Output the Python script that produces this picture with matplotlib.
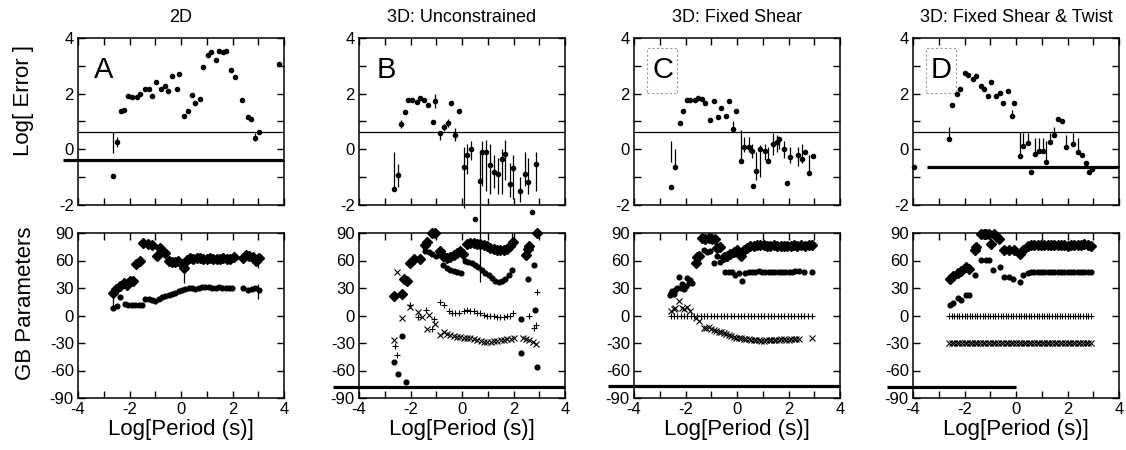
import matplotlib.pyplot as plt
from matplotlib.patches import Rectangle

plt.rcParams['font.family'] = ['Liberation Sans', 'DejaVu Sans']
plt.rcParams['axes.unicode_minus'] = False

titles = ['2D', '3D: Unconstrained', '3D: Fixed Shear', '3D: Fixed Shear & Twist']
letters = ['A', 'B', 'C', 'D']

# ---- top row: Log[Error] ----
a_top_x = [-2.63, -2.47, -2.33, -2.21, -2.04, -1.91, -1.69, -1.61, -1.39, -1.26, -1.11, -0.96, -0.77,
           -0.64, -0.49, -0.36, -0.16, -0.06, 0.12, 0.27, 0.42, 0.55, 0.72, 0.85, 1.05, 1.18, 1.36,
           1.49, 1.65, 1.76, 1.94, 2.08, 2.37, 2.59, 2.72, 2.86, 3.02, 3.79]
a_top_y = [-0.97, 0.28, 1.36, 1.42, 1.90, 1.87, 1.87, 1.99, 2.18, 2.18, 1.90, 2.41, 2.18,
           2.26, 2.08, 2.64, 2.17, 2.71, 1.21, 1.36, 1.96, 1.66, 1.81, 2.95, 3.38, 3.49, 3.22,
           3.52, 3.50, 3.52, 2.84, 2.60, 1.78, 1.16, 1.09, 0.40, 0.62, 3.08]
a_bar_x = [-2.63, -2.47, 2.86]
a_bar_lo = [-0.14, 0.10, 0.30]
a_bar_hi = [0.64, 0.45, 0.60]

b_top_x = [-2.66, -2.49, -2.38, -2.21, -2.08, -1.95, -1.75, -1.62, -1.47, -1.32, -1.14, -1.04, -0.84,
           -0.71, -0.55, -0.42, -0.26, -0.13, 0.06, 0.19, 0.36, 0.49, 0.68, 0.77, 0.94, 1.09, 1.26,
           1.38, 1.55, 1.68, 1.85, 1.98, 2.26, 2.46, 2.58, 2.72, 2.89]
b_top_y = [-1.41, -0.93, 0.92, 1.34, 1.77, 1.77, 1.71, 1.85, 1.79, 1.61, 0.98, 1.73, 0.58,
           0.82, 0.94, 1.67, 0.50, 1.37, -0.62, -0.20, 0.01, -2.52, -1.13, -0.11, -0.11, -0.55, -0.83,
           -0.87, -0.35, -0.15, -1.23, -0.67, -1.50, -0.89, -1.19, -2.25, -0.53]
b_bar_x = [-2.66, -2.49, -2.38, -1.04, -0.84, -0.71, -0.55, -0.26, 0.06, 0.19, 0.36, 0.68, 0.77,
           0.94, 1.09, 1.26, 1.38, 1.55, 1.68, 1.85, 1.98, 2.26, 2.46, 2.58, 2.89]
b_bar_lo = [-1.37, -1.37, 0.75, 1.5, 0.35, 0.65, 0.8, 0.3, -2.1, -0.9, -0.4, -3.02, -1.3,
            -1.5, -1.6, -1.4, -1.6, -1.6, -1.1, -1.7, -1.8, -1.9, -1.3, -1.6, -1.5]
b_bar_hi = [-0.11, -0.53, 1.05, 2.0, 0.6, 0.9, 1.1, 0.75, 0.1, 0.2, 0.3, -0.1, 0.3,
            0.35, 0.2, -0.2, -0.3, 0.0, 0.35, -0.5, -0.2, -1.0, -0.1, -0.3, -0.1]

c_top_x = [-2.55, -2.41, -2.23, -2.10, -1.96, -1.83, -1.65, -1.52, -1.35, -1.23, -1.03, -0.90, -0.75,
           -0.62, -0.43, -0.32, -0.15, -0.03, 0.15, 0.28, 0.45, 0.58, 0.61, 0.74, 0.90, 1.10, 1.20,
           1.39, 1.55, 1.65, 1.81, 1.94, 2.06, 2.36, 2.52, 2.66, 2.80, 2.95]
c_top_y = [-1.37, -0.65, 0.94, 1.37, 1.79, 1.79, 1.79, 1.84, 1.81, 1.66, 1.06, 1.72, 1.15,
           1.48, 1.19, 1.72, 0.73, 1.39, -0.41, 0.07, 0.07, -0.05, -1.30, -0.77, 0.00, -0.05, -0.41,
           0.19, 0.27, 0.37, 0.00, -1.22, -0.29, -0.20, -0.35, -0.10, -0.85, -0.25]
c_bar_x = [-2.55, -2.41, -0.15, 0.15, 0.28, 0.45, 0.58, 0.74, 0.90, 1.10, 1.20, 1.39, 1.55,
           1.65, 1.81, 2.06, 2.36, 2.52, 2.80]
c_bar_lo = [-0.47, -0.71, 0.67, -0.41, -0.10, -0.10, -0.30, -1.10, -1.00, -0.40, -0.50, -0.20, -0.10,
            0.00, -0.30, -0.50, -0.60, -0.50, -0.90]
c_bar_hi = [0.31, 0.01, 1.03, 0.70, 0.45, 0.45, 0.20, -0.10, 0.15, 0.20, 0.10, 0.60, 0.50,
            0.40, 0.30, 0.10, 0.10, 0.20, -0.20]

d_top_x = [-3.97, -2.61, -2.48, -2.30, -2.17, -2.00, -1.87, -1.68, -1.57, -1.35, -1.23, -1.10, -0.97,
           -0.77, -0.62, -0.49, -0.32, -0.17, -0.06, 0.15, 0.28, 0.45, 0.58, 0.74, 0.88, 1.03, 1.16,
           1.33, 1.46, 1.64, 1.77, 1.96, 2.20, 2.40, 2.55, 2.70, 2.85, 2.95]
d_top_y = [-0.65, 0.36, 1.58, 1.98, 2.18, 2.74, 2.68, 2.54, 2.64, 2.26, 2.18, 1.90, 2.42,
           1.90, 2.02, 1.66, 2.08, 1.18, 1.66, -0.23, 0.13, 0.24, -0.80, -0.18, -0.06, -0.06, -0.47,
           0.28, 0.52, 1.08, 1.00, 0.10, 0.20, -0.10, -0.20, -0.50, -0.80, -0.70]
d_bar_x = [-2.61, -0.17, 0.15, 0.28, 0.45, 0.74, 0.88, 1.03, 1.16, 1.33, 1.46, 1.96, 2.20, 2.40]
d_bar_lo = [0.36, 1.18, -0.23, 0.13, 0.24, -0.18, -0.06, -0.06, -0.47, 0.28, 0.52, 0.10, 0.20, -0.10]
d_bar_hi = [0.80, 1.40, 0.64, 0.60, 0.60, 0.40, 0.40, 0.40, 0.30, 0.60, 0.80, 0.50, 0.60, 0.40]

# ---- bottom row: GB parameters ----
a_dia_x = [-2.65, -2.52, -2.35, -2.23, -2.10, -1.97, -1.87, -1.74, -1.61, -1.46, -1.30, -1.13, -0.94,
           -0.81, -0.61, -0.48, -0.36, -0.23, -0.10, 0.03, 0.13, 0.22, 0.35, 0.48, 0.61, 0.74, 0.87,
           1.00, 1.13, 1.26, 1.39, 1.52, 1.65, 1.78, 1.91, 2.04, 2.40, 2.53, 2.66, 2.79, 2.92, 3.02]
a_dia_y = [25, 29, 32, 36, 33, 38, 38, 56, 60, 79, 78, 77, 65,
           74, 68, 59, 58, 58, 59, 56, 52, 61, 63, 62, 63, 63, 62,
           62, 63, 62, 62, 62, 63, 62, 62, 64, 63, 66, 65, 64, 60, 63]
a_dot_x = [-2.65, -2.50, -2.35, -2.18, -2.05, -1.92, -1.78, -1.65, -1.52, -1.39, -1.26, -1.13, -1.00,
           -0.87, -0.74, -0.61, -0.48, -0.35, -0.22, -0.09, 0.04, 0.17, 0.30, 0.43, 0.56, 0.69, 0.82,
           0.95, 1.08, 1.21, 1.34, 1.47, 1.60, 1.73, 1.86, 1.99, 2.40, 2.62, 2.75, 2.88, 3.02]
a_dot_y = [8, 10, 20, 13, 12, 12, 11, 11, 11, 18, 18, 17, 16,
           18, 20, 21, 22, 23, 25, 27, 28, 29, 30, 30, 29, 30, 31,
           31, 31, 30, 30, 31, 30, 30, 30, 30, 30, 28, 29, 30, 28]
a_gbar_x = [-2.65, 0.13, 3.0, 3.0]
a_gbar_lo = [8, 36, 52, 18]
a_gbar_hi = [25, 56, 68, 34]

b_dia_x = [-2.64, -2.34, -2.25, -2.15, -2.01, -1.85, -1.65, -1.45, -1.36, -1.15, -1.04, -0.85, -0.72,
           -0.59, -0.46, -0.33, -0.20, -0.07, 0.05, 0.19, 0.32, 0.45, 0.58, 0.71, 0.84, 0.97, 1.10,
           1.23, 1.36, 1.49, 1.62, 1.75, 1.88, 1.97, 2.50, 2.55, 2.62, 2.92]
b_dia_y = [21, 23, 40, 38, 57, 62, 62, 77, 80, 90, 90, 70, 65,
           63, 64, 66, 68, 70, 67, 78, 79, 79, 78, 78, 77, 76, 74,
           73, 72, 71, 71, 73, 76, 80, 66, 73, 76, 90]
b_dot_x = [-2.64, -2.47, -2.34, -2.17, -1.45, -1.30, -1.15, -1.00, -0.72, -0.59, -0.45, -0.32, -0.19,
           -0.05, 0.12, 0.25, 0.38, 0.51, 0.64, 0.77, 0.90, 1.03, 1.16, 1.29, 1.42, 1.55, 1.68,
           1.81, 1.94, 2.30, 2.30, 2.55, 2.81, 2.82, 2.90]
b_dot_y = [-51, -64, -22, -73, 70, 69, 67, 65, 55, 52, 50, 49, 48,
           46, 60, 58, 57, 55, 53, 50, 46, 44, 41, 38, 37, 38, 40,
           44, 50, -4, -41, 40, 55, 6, -56]
b_plus_x = [-2.60, -2.51, -2.01, -1.69, -1.39, -1.17, -1.10, -0.84, -0.69, -0.52, -0.39, -0.26, -0.13,
            0.06, 0.19, 0.32, 0.45, 0.58, 0.71, 0.84, 0.97, 1.10, 1.23, 1.36, 1.49, 1.62, 1.75,
            1.88, 1.99, 2.60, 2.79, 2.86, 2.92]
b_plus_y = [-33, -43, 11, -2, 6, -15, -4, 15, 11, 5, 3, 3, 3,
            5, 6, 5, 5, 3, 3, 1, 0, -1, -1, -2, -2, -2, -1,
            0, 3, -1, -14, -10, 26]
b_x_x = [-2.64, -2.53, -2.34, -2.01, -1.71, -1.55, -1.36, -1.30, -1.04, -0.84, -0.71, -0.58, -0.45,
         -0.32, -0.19, -0.06, 0.07, 0.20, 0.33, 0.46, 0.59, 0.72, 0.85, 0.98, 1.11, 1.24, 1.37,
         1.50, 1.63, 1.76, 1.89, 2.01, 2.38, 2.50, 2.62, 2.75, 2.86]
b_x_y = [-27, 48, -3, 9, 4, -2, -15, 1, -9, -21, -18, -20, -21,
         -22, -23, -23, -25, -24, -25, -26, -27, -28, -29, -29, -29, -28, -28,
         -27, -27, -26, -26, -24, -24, -26, -27, -29, -31]
b_gbar_x = [0.68, 1.96]
b_gbar_lo = [37, 80]
b_gbar_hi = [90, 90]

c_dia_x = [-1.61, -1.55, -1.48, -1.35, -1.23, -1.10, -0.97, -0.84, -0.77, -0.65, -0.52, -0.39, -0.26,
           -0.13, 0.00, 0.15, 0.26, 0.39, 0.52, 0.65, 0.78, 0.91, 1.04, 1.17, 1.30, 1.43, 1.56,
           1.69, 1.82, 1.95, 2.08, 2.21, 2.32, 2.50, 2.65, 2.80, 2.92]
c_dia_y = [57, 64, 65, 85, 83, 85, 84, 83, 74, 75, 64, 65, 67,
           69, 71, 65, 71, 74, 76, 76, 77, 77, 77, 76, 76, 77, 76,
           76, 76, 76, 76, 77, 76, 77, 76, 77, 77]
c_dot_x = [-2.62, -2.58, -2.52, -2.45, -2.39, -2.33, -2.26, -2.19, -2.13, -2.06, -2.00, -1.94, -1.87,
           -1.81, -1.75, -1.29, -1.16, -1.03, -0.90, -0.77, -0.65, -0.45, -0.32, -0.19, -0.06, 0.06,
           0.19, 0.32, 0.45, 0.58, 0.71, 0.84, 0.97, 1.10, 1.23, 1.36, 1.49, 1.62, 1.75, 1.88,
           2.01, 2.14, 2.27, 2.40, 2.60, 2.92]
c_dot_y = [22, 25, 27, 24, 28, 30, 42, 30, 34, 29, 32, 41, 35,
           39, 36, 71, 69, 70, 57, 65, 58, 47, 48, 47, 44, 46,
           38, 46, 47, 48, 48, 49, 48, 48, 48, 48, 47, 48, 48, 48,
           48, 48, 49, 49, 48, 48]
c_plus_x = [-2.58, -2.45, -2.32, -2.19, -2.06, -1.93, -1.80, -1.67, -1.54, -1.41, -1.28, -1.15, -1.02,
            -0.89, -0.76, -0.63, -0.50, -0.37, -0.24, -0.11, 0.02, 0.15, 0.28, 0.41, 0.54, 0.67,
            0.80, 0.93, 1.06, 1.19, 1.32, 1.45, 1.58, 1.71, 1.84, 1.97, 2.10, 2.23, 2.36, 2.49,
            2.62, 2.75, 2.92]
c_plus_y = [0, 0, 0, 0, 0, 0, 0, 0, 0, 0, 0, 0, 0,
            0, 0, 0, 0, 0, 0, 0, 0, 0, 0, 0, 0, 0,
            0, 0, 0, 0, 0, 0, 0, 0, 0, 0, 0, 0, 0, 0,
            0, 0, 0]
c_x_x = [-2.58, -2.45, -2.39, -2.26, -2.13, -2.06, -1.94, -1.81, -1.61, -1.48, -1.29, -1.20, -1.10,
         -1.00, -0.90, -0.80, -0.71, -0.62, -0.52, -0.42, -0.32, -0.22, -0.13, -0.03, 0.06, 0.16,
         0.26, 0.36, 0.45, 0.55, 0.65, 0.75, 0.84, 0.94, 1.04, 1.14, 1.23, 1.33, 1.43, 1.53,
         1.62, 1.72, 1.82, 1.92, 2.01, 2.11, 2.21, 2.30, 2.40, 2.92]
c_x_y = [5, 7, 8, 16, 8, 7, 9, 5, -3, -6, -14, -14, -13,
         -15, -16, -17, -18, -18, -19, -20, -21, -22, -23, -24, -25, -25,
         -26, -26, -26, -27, -27, -27, -27, -28, -28, -27, -27, -27, -27, -27,
         -27, -26, -26, -27, -27, -26, -26, -26, -26, -24]

d_dia_x = [-2.58, -2.45, -2.26, -2.13, -1.94, -1.83, -1.61, -1.55, -1.35, -1.25, -1.15, -1.03, -0.97,
           -0.85, -0.75, -0.65, -0.45, -0.26, -0.06, 0.15, 0.26, 0.45, 0.58, 0.71, 0.84, 0.97,
           1.10, 1.23, 1.36, 1.49, 1.62, 1.75, 1.88, 2.01, 2.14, 2.27, 2.40, 2.53, 2.66, 2.79, 2.92]
d_dia_y = [40, 43, 46, 49, 53, 51, 72, 75, 89, 89, 89, 89, 78,
           89, 86, 83, 72, 72, 71, 67, 72, 76, 77, 77, 77, 77,
           77, 77, 77, 77, 77, 77, 77, 76, 77, 77, 77, 77, 78, 77, 76]
d_dot_x = [-2.58, -2.45, -2.26, -2.13, -1.94, -1.83, -1.61, -1.35, -1.16, -1.03, -0.90, -0.62, -0.45,
           -0.26, -0.13, 0.15, 0.26, 0.45, 0.58, 0.71, 0.84, 0.97, 1.10, 1.23, 1.36, 1.49,
           1.62, 1.75, 1.88, 2.01, 2.14, 2.27, 2.40, 2.53, 2.66, 2.79, 2.92]
d_dot_y = [12, 14, 19, 17, 22, 22, 44, 61, 61, 61, 50, 53, 42,
           42, 40, 37, 44, 46, 47, 47, 47, 47, 47, 47, 47, 47,
           47, 47, 47, 47, 47, 47, 48, 48, 48, 48, 47]
d_grid_x = [-2.6, -2.5, -2.4, -2.3, -2.2, -2.1, -2.0, -1.9, -1.8, -1.7, -1.6, -1.5, -1.4, -1.3,
            -1.2, -1.1, -1.0, -0.9, -0.8, -0.7, -0.6, -0.5, -0.4, -0.3, -0.2, -0.1, 0.0, 0.1,
            0.2, 0.3, 0.4, 0.5, 0.6, 0.7, 0.8, 0.9, 1.0, 1.1, 1.2, 1.3, 1.4, 1.5, 1.6, 1.7,
            1.8, 1.9, 2.0, 2.1, 2.2, 2.3, 2.4, 2.5, 2.6, 2.7, 2.8, 2.9]
d_plus_y = [0, 0, 0, 0, 0, 0, 0, 0, 0, 0, 0, 0, 0, 0,
            0, 0, 0, 0, 0, 0, 0, 0, 0, 0, 0, 0, 0, 0,
            0, 0, 0, 0, 0, 0, 0, 0, 0, 0, 0, 0, 0, 0,
            0, 0, 0, 0, 0, 0, 0, 0, 0, 0, 0, 0, 0, 0]
d_x_y = [-30, -30, -30, -30, -30, -30, -30, -30, -30, -30, -30, -30, -30, -30,
         -30, -30, -30, -30, -30, -30, -30, -30, -30, -30, -30, -30, -30, -30,
         -30, -30, -30, -30, -30, -30, -30, -30, -30, -30, -30, -30, -30, -30,
         -30, -30, -30, -30, -30, -30, -30, -30, -30, -30, -30, -30, -30, -30]

err_level = 0.62
thick_top = {0: (-4.6, 4.0, -0.39), 3: (-3.45, 4.0, -0.64)}
thick_bot = {1: (-5.0, 4.0, -78), 2: (-5.0, 4.0, -77), 3: (-5.0, 0.0, -78)}

W, H = 1126, 450
fig = plt.figure(figsize=(W / 100, H / 100), dpi=100)
lefts = [78, 359, 634, 913]
axw = 206


def add_ax(x0, y0, w, h):
    return fig.add_axes([x0 / W, 1 - (y0 + h) / H, w / W, h / H])


def style(ax):
    ax.set_xlim(-4, 4)
    ax.set_xticks([-4, -2, 0, 2, 4])
    ax.set_xticks([-3, -1, 1, 3], minor=True)
    ax.tick_params(which='both', direction='in', top=True, right=True,
                   length=5, width=1, labelsize=12, pad=3)
    for s in ax.spines.values():
        s.set_linewidth(1.1)


top_data = [(a_top_x, a_top_y, a_bar_x, a_bar_lo, a_bar_hi),
            (b_top_x, b_top_y, b_bar_x, b_bar_lo, b_bar_hi),
            (c_top_x, c_top_y, c_bar_x, c_bar_lo, c_bar_hi),
            (d_top_x, d_top_y, d_bar_x, d_bar_lo, d_bar_hi)]

bot_data = [
    [(a_dia_x, a_dia_y, 'D'), (a_dot_x, a_dot_y, 'o')],
    [(b_dia_x, b_dia_y, 'D'), (b_dot_x, b_dot_y, 'o'), (b_plus_x, b_plus_y, '+'), (b_x_x, b_x_y, 'x')],
    [(c_dia_x, c_dia_y, 'D'), (c_dot_x, c_dot_y, 'o'), (c_plus_x, c_plus_y, '+'), (c_x_x, c_x_y, 'x')],
    [(d_dia_x, d_dia_y, 'D'), (d_dot_x, d_dot_y, 'o'), (d_grid_x, d_plus_y, '+'), (d_grid_x, d_x_y, 'x')],
]
bot_bars = {0: (a_gbar_x, a_gbar_lo, a_gbar_hi), 1: (b_gbar_x, b_gbar_lo, b_gbar_hi)}

for i in range(4):
    # top panel
    ax = add_ax(lefts[i], 38, axw, 167)
    style(ax)
    ax.set_ylim(-2, 4)
    ax.set_yticks([-2, 0, 2, 4])
    ax.set_yticks([-1, 1, 3], minor=True)
    ax.tick_params(axis='x', labelbottom=False)
    tx, ty, bx, blo, bhi = top_data[i]
    ax.vlines(bx, blo, bhi, color='k', lw=0.9, clip_on=False)
    ax.plot(tx, ty, 'o', color='k', ms=3.0, clip_on=False)
    ax.axhline(err_level, color='k', lw=0.9)
    if i in thick_top:
        x0, x1, yv = thick_top[i]
        ax.plot([x0, x1], [yv, yv], color='k', lw=2.3, clip_on=False, solid_capstyle='butt')
    ax.text(-3.4 if i == 0 else -3.3, 2.85, letters[i], fontsize=21, ha='left', va='center')
    if i >= 2:
        ax.add_patch(Rectangle((-3.5, 2.03), 1.16, 1.6, fill=False, ec='0.6', lw=0.8,
                               ls=(0, (2, 2))))
    fig.text((lefts[i] + axw / 2) / W, 1 - 17 / H, titles[i], fontsize=13,
             ha='center', va='center')

    # bottom panel
    ax = add_ax(lefts[i], 233, axw, 165)
    style(ax)
    ax.set_ylim(-90, 90)
    ax.set_yticks([-90, -60, -30, 0, 30, 60, 90])
    if i in bot_bars:
        bx, blo, bhi = bot_bars[i]
        ax.vlines(bx, blo, bhi, color='k', lw=0.9, clip_on=False)
    for sx, sy, m in bot_data[i]:
        if m == 'D':
            ax.plot(sx, sy, 'D', color='k', ms=4.6, clip_on=False)
        elif m == 'o':
            ax.plot(sx, sy, 'o', color='k', ms=3.4, clip_on=False)
        else:
            ax.plot(sx, sy, m, color='k', ms=4.5, mew=0.8, clip_on=False)
    if i in thick_bot:
        x0, x1, yv = thick_bot[i]
        ax.plot([x0, x1], [yv, yv], color='k', lw=2.3, clip_on=False, solid_capstyle='butt')
    fig.text((lefts[i] + axw / 2) / W, 1 - 430 / H, 'Log[Period (s)]', fontsize=16,
             ha='center', va='center')

fig.text(24 / W, 1 - 101 / H, 'Log[ Error ]', fontsize=16, rotation=90, ha='center', va='center')
fig.text(26 / W, 1 - 303 / H, 'GB Parameters', fontsize=16, rotation=90, ha='center', va='center')

fig.savefig('out.png', dpi=100)
